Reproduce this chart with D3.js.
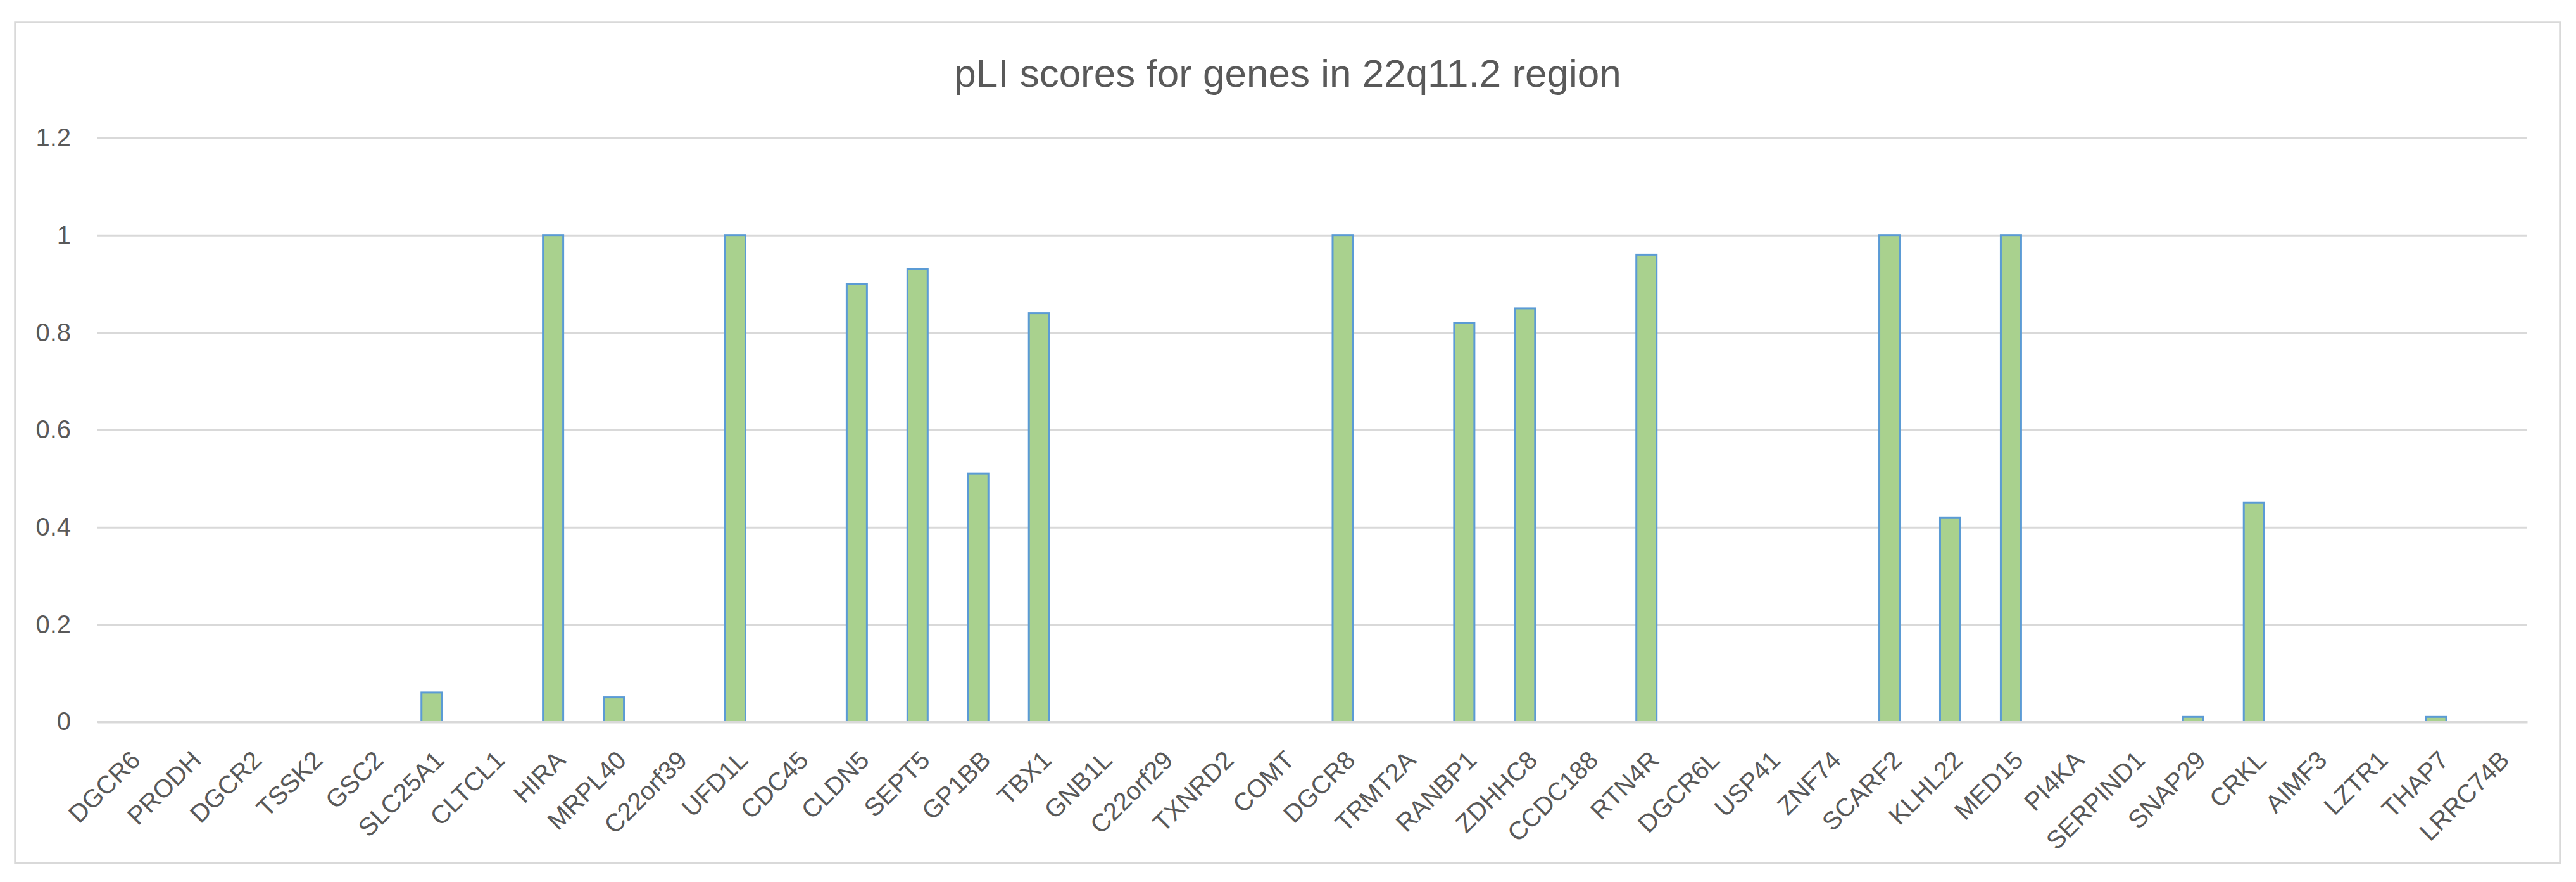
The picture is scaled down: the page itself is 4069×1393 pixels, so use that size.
<!DOCTYPE html>
<html>
<head>
<meta charset="utf-8">
<script src="https://cdn.jsdelivr.net/npm/d3@7/dist/d3.min.js"></script>
<style>
  html, body { margin: 0; padding: 0; background: #ffffff; }
  svg { display: block; }
  text { font-family: "Liberation Sans Narrow", "Liberation Sans", Arial, sans-serif; fill: #595959; }
</style>
</head>
<body>
<svg id="chart" width="4069" height="1393"></svg>
<script>
const title = "pLI scores for genes in 22q11.2 region";
const categories = ["DGCR6","PRODH","DGCR2","TSSK2","GSC2","SLC25A1","CLTCL1","HIRA","MRPL40","C22orf39",
  "UFD1L","CDC45","CLDN5","SEPT5","GP1BB","TBX1","GNB1L","C22orf29","TXNRD2","COMT",
  "DGCR8","TRMT2A","RANBP1","ZDHHC8","CCDC188","RTN4R","DGCR6L","USP41","ZNF74","SCARF2",
  "KLHL22","MED15","PI4KA","SERPIND1","SNAP29","CRKL","AIMF3","LZTR1","THAP7","LRRC74B"];
const values = [0,0,0,0,0,0.06,0,1,0.05,0,
  1,0,0.9,0.93,0.51,0.84,0,0,0,0,
  1,0,0.82,0.85,0,0.96,0,0,0,1,
  0.42,1,0,0,0.01,0.45,0,0,0.01,0];
const yTicks = [0,0.2,0.4,0.6,0.8,1,1.2];
const yTickLabels = ["0","0.2","0.4","0.6","0.8","1","1.2"];

const svg = d3.select("#chart");
const W = 4069, H = 1393;
const plot = { left: 154, right: 3992, top: 218, bottom: 1140 };

// outer chart border
svg.append("rect")
  .attr("x", 24).attr("y", 35)
  .attr("width", 4044 - 24).attr("height", 1363 - 35)
  .attr("fill", "#ffffff").attr("stroke", "#d9d9d9").attr("stroke-width", 3.5);

const x = d3.scaleBand().domain(categories).range([plot.left, plot.right])
  .paddingInner(2/3).paddingOuter(1/3);
const y = d3.scaleLinear().domain([0, 1.2]).range([plot.bottom, plot.top]);

// gridlines + y labels
const yAxis = d3.axisLeft(y).tickValues(yTicks)
  .tickFormat((d, i) => yTickLabels[i])
  .tickSize(-(plot.right - plot.left)).tickPadding(42);
const gy = svg.append("g").attr("transform", `translate(${plot.left},0)`).call(yAxis);
gy.select(".domain").remove();
gy.selectAll(".tick line").attr("stroke", "#d9d9d9").attr("stroke-width", 3);
gy.selectAll(".tick text").attr("font-size", 40).attr("fill", "#595959")
  .style("font-family", '"Liberation Sans Narrow", "Liberation Sans", Arial, sans-serif');

// bars
svg.append("g").selectAll("rect").data(categories).join("rect")
  .attr("x", (d) => x(d))
  .attr("width", x.bandwidth())
  .attr("y", (d, i) => y(values[i]))
  .attr("height", (d, i) => y(0) - y(values[i]))
  .attr("fill", "#a9d18e")
  .attr("stroke", "#5b9bd5")
  .attr("stroke-width", 3)
  .style("display", (d, i) => values[i] > 0 ? null : "none");

// x axis baseline
const xAxis = d3.axisBottom(x).tickSize(0).tickSizeOuter(0);
const gx = svg.append("g").attr("transform", `translate(0,${plot.bottom})`).call(xAxis);
gx.select(".domain").attr("stroke", "#d9d9d9").attr("stroke-width", 4);
gx.selectAll(".tick text")
  .attr("x", 0).attr("y", 0).attr("dy", "0.35em")
  .attr("text-anchor", "end")
  .attr("font-size", 40).attr("fill", "#595959")
  .style("font-family", '"Liberation Sans Narrow", "Liberation Sans", Arial, sans-serif')
  .attr("transform", "translate(12,53) rotate(-45)");

// title
svg.append("text")
  .attr("x", 2034).attr("y", 137)
  .attr("text-anchor", "middle")
  .attr("font-size", 62)
  .attr("fill", "#595959")
  .text(title);
</script>
</body>
</html>
